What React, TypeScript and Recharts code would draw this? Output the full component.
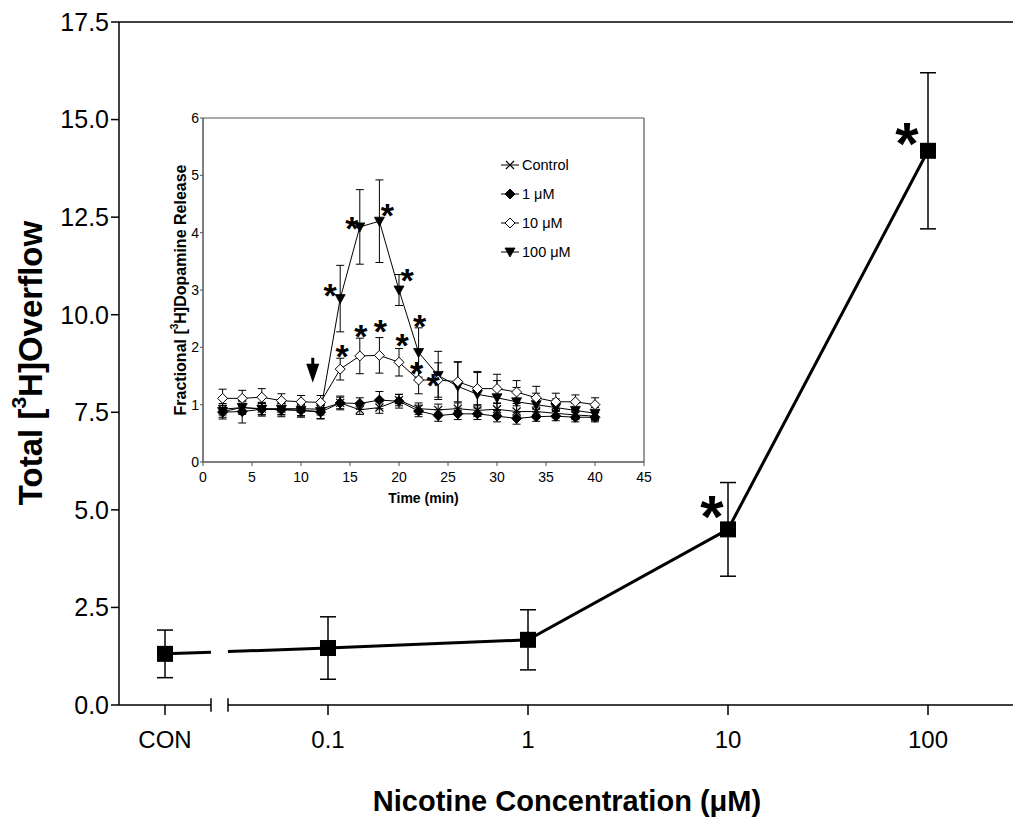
import {
  ComposedChart,
  LineChart,
  Line,
  XAxis,
  YAxis,
  ErrorBar,
  ReferenceLine,
  Scatter,
  Legend,
  Label,
} from 'recharts';

const FONT = '"Liberation Sans", Arial, Helvetica, sans-serif';

// main panel: total overflow vs nicotine concentration (CON sits left of the axis break)
const concLabels = ['CON', '0.1', '1', '10', '100'];
const concValues = [0, 0.1, 1, 10, 100];
const overflowMean = [1.31, 1.46, 1.67, 4.5, 14.2];
const overflowSem = [0.61, 0.8, 0.77, 1.2, 2.0];
const overflowSig = [false, false, false, true, true];
const overflowTicks = [0, 2.5, 5, 7.5, 10, 12.5, 15, 17.5];

// inset: fractional release time course
const timeMin = [2, 4, 6, 8, 10, 12, 14, 16, 18, 20, 22, 24, 26, 28, 30, 32, 34, 36, 38, 40];
const controlMean = [0.92, 0.95, 0.93, 0.93, 0.93, 0.92, 1.03, 0.91, 0.95, 1.08, 0.93, 0.91, 0.93, 0.9, 0.92, 0.88, 0.88, 0.85, 0.82, 0.8];
const controlSem = [0.1, 0.12, 0.1, 0.1, 0.12, 0.1, 0.1, 0.08, 0.1, 0.1, 0.1, 0.1, 0.1, 0.1, 0.1, 0.1, 0.08, 0.08, 0.08, 0.08];
const oneMean = [0.87, 0.88, 0.92, 0.91, 0.9, 0.87, 1.03, 1.02, 1.08, 1.06, 0.89, 0.81, 0.84, 0.84, 0.8, 0.76, 0.79, 0.8, 0.78, 0.78];
const oneSem = [0.12, 0.2, 0.12, 0.12, 0.12, 0.12, 0.12, 0.1, 0.15, 0.12, 0.1, 0.1, 0.1, 0.1, 0.1, 0.1, 0.08, 0.08, 0.08, 0.08];
const tenMean = [1.11, 1.11, 1.13, 1.07, 1.05, 1.04, 1.62, 1.85, 1.86, 1.74, 1.43, 1.43, 1.4, 1.28, 1.28, 1.22, 1.12, 1.05, 1.05, 1.0];
const tenSem = [0.16, 0.14, 0.15, 0.12, 0.11, 0.12, 0.19, 0.31, 0.31, 0.24, 0.24, 0.3, 0.35, 0.3, 0.25, 0.2, 0.2, 0.15, 0.12, 0.12];
const tenSig = [false, false, false, false, false, false, true, true, true, true, true, true, false, false, false, false, false, false, false, false];
const hundredMean = [0.88, 0.95, 0.92, 0.92, 0.9, 0.88, 2.85, 4.1, 4.2, 3.0, 1.91, 1.51, 1.32, 1.18, 1.12, 1.05, 1.0, 0.95, 0.9, 0.85];
const hundredSem = [0.1, 0.1, 0.1, 0.1, 0.1, 0.12, 0.58, 0.65, 0.72, 0.27, 0.43, 0.42, 0.42, 0.38, 0.3, 0.25, 0.2, 0.15, 0.12, 0.1];
const hundredSig = [false, false, false, false, false, false, true, true, true, true, true, false, false, false, false, false, false, false, false, false];
const timeTicks = [0, 5, 10, 15, 20, 25, 30, 35, 40, 45];
const releaseTicks = [0, 1, 2, 3, 4, 5, 6];
const arrowPoint = [{ t: 11.2, v: 1.6 }];

// layout of the main panel (log10 units on x)
const W = 1013;
const H = 825;
const X_MIN = -2.045;
const X_MAX = 2.425;
const CON_POS = -1.815;
const BREAK_L = -1.585;
const BREAK_R = -1.5;
const PX_PER_UNIT = (W - 119) / (X_MAX - X_MIN);

const mainData = concLabels.map((label, i) => ({
  label,
  pos: concValues[i] === 0 ? CON_POS : Math.log10(concValues[i]),
  mean: overflowMean[i],
  sem: overflowSem[i],
  star: overflowSig[i],
}));

const insetData = timeMin.map((t, i) => ({
  t,
  control: controlMean[i],
  controlErr: controlSem[i],
  one: oneMean[i],
  oneErr: oneSem[i],
  ten: tenMean[i],
  tenErr: tenSem[i],
  tenStar: tenSig[i],
  hundred: hundredMean[i],
  hundredErr: hundredSem[i],
  hundredStar: hundredSig[i],
}));

// where each asterisk sits relative to its point
const mainStarOffset: Record<string, [number, number]> = { '10': [-16, -27], '100': [-21, -22] };
const tenStarOffset: Record<number, [number, number]> = {
  14: [2, -21], 16: [1, -28], 18: [1, -32], 20: [3, -25], 22: [-2, -15], 24: [-5, -3],
};
const hundredStarOffset: Record<number, [number, number]> = {
  14: [-10, -11], 16: [-8, -7], 18: [8, -14], 20: [8, -18], 22: [1, -34],
};

const insetSeries = [
  { key: 'control', name: 'Control', marker: 'cross' },
  { key: 'one', name: '1 μM', marker: 'diamond' },
  { key: 'hundred', name: '100 μM', marker: 'triangle' },
  { key: 'ten', name: '10 μM', marker: 'openDiamond' },
];
const legendOrder = ['control', 'one', 'ten', 'hundred'];

function marker(kind: string, cx: number, cy: number) {
  if (kind === 'cross') {
    return (
      <g stroke="#000" strokeWidth={1.2}>
        <line x1={cx - 4} y1={cy - 4} x2={cx + 4} y2={cy + 4} />
        <line x1={cx - 4} y1={cy + 4} x2={cx + 4} y2={cy - 4} />
      </g>
    );
  }
  if (kind === 'diamond' || kind === 'openDiamond') {
    const pts = `${cx},${cy - 5} ${cx + 5},${cy} ${cx},${cy + 5} ${cx - 5},${cy}`;
    return <polygon points={pts} fill={kind === 'diamond' ? '#000' : '#fff'} stroke="#000" strokeWidth={1} />;
  }
  const pts = `${cx - 5},${cy - 4} ${cx + 5},${cy - 4} ${cx},${cy + 5}`;
  return <polygon points={pts} fill="#000" stroke="#000" strokeWidth={0.8} />;
}

function star(x: number, y: number, size: number) {
  return (
    <text x={x} y={y + size * 0.58} textAnchor="middle" fontSize={size} fontWeight="bold" fill="#000">
      *
    </text>
  );
}

const renderSquare = (p: any) => {
  if (p.cx == null || p.cy == null) return <g key={`sq-${p.index}`} />;
  const off = mainStarOffset[p.payload.label];
  return (
    <g key={`sq-${p.index}`}>
      <rect x={p.cx - 8} y={p.cy - 8} width={16} height={16} fill="#000" />
      {p.payload.star && off ? star(p.cx + off[0], p.cy + off[1], 60) : null}
    </g>
  );
};

const makeInsetDot = (kind: string, starKey?: string, offsets?: Record<number, [number, number]>) => (p: any) => {
  if (p.cx == null || p.cy == null) return <g key={`d-${kind}-${p.index}`} />;
  const off = offsets ? offsets[p.payload.t] : undefined;
  return (
    <g key={`d-${kind}-${p.index}`}>
      {marker(kind, p.cx, p.cy)}
      {starKey && p.payload[starKey] && off ? star(p.cx + off[0], p.cy + off[1], 34) : null}
    </g>
  );
};

const renderArrow = (p: any) => {
  const { cx, cy } = p;
  return (
    <g>
      <rect x={cx - 1.5} y={cy - 12.5} width={3} height={7} fill="#000" />
      <polygon points={`${cx - 6.5},${cy - 6.5} ${cx + 6.5},${cy - 6.5} ${cx},${cy + 12.5}`} fill="#000" />
    </g>
  );
};

const renderLegend = () => (
  <div style={{ fontFamily: FONT, fontSize: 14.5, color: '#000' }}>
    {legendOrder.map((k) => {
      const s = insetSeries.find((x) => x.key === k)!;
      return (
        <div key={k} style={{ display: 'flex', alignItems: 'center', height: 29 }}>
          <svg width={20} height={14} style={{ display: 'block' }}>
            <line x1={1} y1={7} x2={19} y2={7} stroke="#000" strokeWidth={1} />
            {marker(s.marker, 10, 7)}
          </svg>
          <span style={{ marginLeft: 2, whiteSpace: 'nowrap' }}>{s.name}</span>
        </div>
      );
    })}
  </div>
);

const posLabel = (v: number) => {
  const d = mainData.find((m) => Math.abs(m.pos - v) < 1e-6);
  return d ? d.label : '';
};

function App() {
  const dash1 = (BREAK_L - CON_POS) * PX_PER_UNIT;
  const gap = (BREAK_R - BREAK_L) * PX_PER_UNIT;
  const axisStroke = { stroke: '#000', strokeWidth: 1.5 };

  return (
    <div style={{ position: 'absolute', left: 0, top: 0, width: W, height: H, background: '#fff', fontFamily: FONT }}>
      <LineChart width={W} height={H} data={mainData} margin={{ top: 22, right: 0, bottom: 0, left: 0 }}>
        <XAxis
          type="number"
          dataKey="pos"
          domain={[X_MIN, X_MAX]}
          allowDataOverflow
          ticks={mainData.map((d) => d.pos)}
          interval={0}
          tickFormatter={posLabel}
          axisLine={false}
          tickLine={axisStroke}
          tickSize={10}
          tickMargin={16}
          height={120}
          tick={{ fontSize: 24, fill: '#000' }}
        >
          <Label
            content={() => (
              <text x={567} y={811} textAnchor="middle" fontSize={29} fontWeight="bold" fill="#000">
                Nicotine Concentration (μM)
              </text>
            )}
          />
        </XAxis>
        <YAxis
          type="number"
          domain={[0, 17.5]}
          allowDataOverflow
          ticks={overflowTicks}
          interval={0}
          tickFormatter={(v: number) => v.toFixed(1)}
          width={119}
          axisLine={axisStroke}
          tickLine={axisStroke}
          tickSize={8}
          tick={{ fontSize: 25, fill: '#000' }}
        >
          <Label
            content={() => (
              <text
                transform="translate(30, 363) rotate(-90)"
                textAnchor="middle"
                dominantBaseline="central"
                fontSize={33}
                fontWeight="bold"
                fill="#000"
              >
                Total [<tspan fontSize={21} dy={-12}>3</tspan>
                <tspan dy={12}>H]Overflow</tspan>
              </text>
            )}
          />
        </YAxis>
        <ReferenceLine y={17.5} {...axisStroke} />
        <ReferenceLine segment={[{ x: X_MIN, y: 0 }, { x: BREAK_L, y: 0 }]} ifOverflow="visible" {...axisStroke} />
        <ReferenceLine segment={[{ x: BREAK_R, y: 0 }, { x: X_MAX, y: 0 }]} ifOverflow="visible" {...axisStroke} />
        <ReferenceLine segment={[{ x: BREAK_L, y: -0.17 }, { x: BREAK_L, y: 0.17 }]} ifOverflow="visible" {...axisStroke} />
        <ReferenceLine segment={[{ x: BREAK_R, y: -0.17 }, { x: BREAK_R, y: 0.17 }]} ifOverflow="visible" {...axisStroke} />
        <Line
          type="linear"
          dataKey="mean"
          stroke="#000"
          strokeWidth={3}
          strokeDasharray={`${dash1} ${gap} 4000`}
          dot={renderSquare}
          activeDot={false}
          isAnimationActive={false}
        >
          <ErrorBar dataKey="sem" width={8} stroke="#000" strokeWidth={1.5} direction="y" />
        </Line>
      </LineChart>

      <div style={{ position: 'absolute', left: 120, top: 100 }}>
        <ComposedChart width={540} height={420} data={insetData} margin={{ top: 18, right: 16, bottom: 0, left: 0 }}>
          <XAxis
            type="number"
            dataKey="t"
            domain={[0, 45]}
            allowDataOverflow
            ticks={timeTicks}
            interval={0}
            axisLine={{ stroke: '#555', strokeWidth: 1.5 }}
            tickLine={{ stroke: '#555' }}
            tickSize={4}
            tickMargin={6}
            height={58}
            tick={{ fontSize: 14, fill: '#000' }}
          >
            <Label
              content={() => (
                <text x={303.5} y={403} textAnchor="middle" fontSize={14} fontWeight="bold" fill="#000">
                  Time (min)
                </text>
              )}
            />
          </XAxis>
          <YAxis
            type="number"
            domain={[0, 6]}
            allowDataOverflow
            ticks={releaseTicks}
            interval={0}
            width={83}
            axisLine={{ stroke: '#555', strokeWidth: 1.5 }}
            tickLine={{ stroke: '#555' }}
            tickSize={3}
            tickMargin={1}
            tick={{ fontSize: 14, fill: '#000' }}
          >
            <Label
              content={() => (
                <text
                  transform="translate(60, 190) rotate(-90)"
                  textAnchor="middle"
                  dominantBaseline="central"
                  fontSize={16}
                  fontWeight="bold"
                  fill="#000"
                >
                  Fractional [<tspan fontSize={10} dy={-6}>3</tspan>
                  <tspan dy={6}>H]Dopamine Release</tspan>
                </text>
              )}
            />
          </YAxis>
          <ReferenceLine y={6} stroke="#555" strokeWidth={1.2} />
          <ReferenceLine x={45} stroke="#555" strokeWidth={1.2} />
          {insetSeries.map((s) => (
            <Line
              key={s.key}
              type="linear"
              dataKey={s.key}
              name={s.name}
              stroke="#000"
              strokeWidth={1}
              dot={makeInsetDot(
                s.marker,
                s.key === 'ten' ? 'tenStar' : s.key === 'hundred' ? 'hundredStar' : undefined,
                s.key === 'ten' ? tenStarOffset : s.key === 'hundred' ? hundredStarOffset : undefined
              )}
              activeDot={false}
              isAnimationActive={false}
            >
              <ErrorBar dataKey={`${s.key}Err`} width={4} stroke="#000" strokeWidth={1} direction="y" />
            </Line>
          ))}
          <Scatter data={arrowPoint} dataKey="v" shape={renderArrow} isAnimationActive={false} />
          <Legend
            layout="vertical"
            align="center"
            verticalAlign="middle"
            content={renderLegend}
            wrapperStyle={{ left: 380, top: 50, width: 120, height: 120 }}
          />
        </ComposedChart>
      </div>
    </div>
  );
}

export default App;
